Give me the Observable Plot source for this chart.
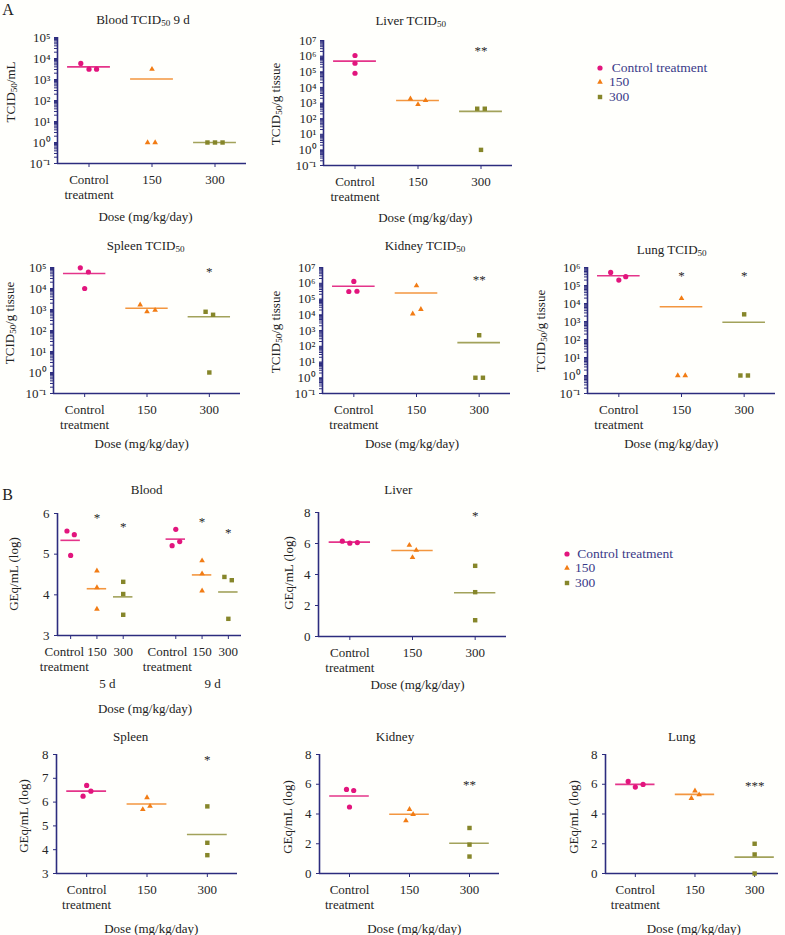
<!DOCTYPE html>
<html><head><meta charset="utf-8">
<script src="https://cdn.jsdelivr.net/npm/d3@7"></script>
<script src="https://cdn.jsdelivr.net/npm/@observablehq/plot@0.6"></script>
<style>
html,body{margin:0;padding:0;background:#fffffc;}
#root{position:relative;width:785px;height:935px;overflow:hidden;background:#fffffc;font-family:"Liberation Serif",serif;color:#222;}
.abs{position:absolute;white-space:nowrap;line-height:1;}
.c{transform:translate(-50%,-50%);}
.rot{transform:translate(-50%,-50%) rotate(-90deg);}
.lg{transform:translate(0,-50%);}
#root svg text{fill:#262626;}
sub{font-size:70%;vertical-align:-0.3em;line-height:0;}
</style></head><body><div id="root"></div>
<script>
// ---------- shared categories ----------
const doseLabels = ["Control\ntreatment", "150", "300"];
const legendNames = ["Control treatment", "150", "300"];
const dayLabels = ["5 d", "9 d"];

// ---------- Panel A: TCID50 (log scale) ----------
const decades5 = [0.1, 1, 10, 100, 1e3, 1e4, 1e5];
const decades6 = [0.1, 1, 10, 100, 1e3, 1e4, 1e5, 1e6];
const decades7 = [0.1, 1, 10, 100, 1e3, 1e4, 1e5, 1e6, 1e7];

const bloodTcid = [[5800, 3100, 3100], [3100, 1, 1], [1, 1, 1]];
const bloodTcidMean = [4000, 1050, 1];
const bloodTcidJitter = [[-0.13, 0, 0.12], [0, -0.07, 0.05], [-0.12, 0, 0.12]];
const bloodTcidSig = ["", "", ""];
const bloodTcidSigAt = [0, 0, 0];

const liverTcid = [[1.1e6, 3.5e5, 8e4], [1860, 810, 1450], [430, 430, 1]];
const liverTcidMean = [4.8e5, 1440, 290];
const liverTcidJitter = [[0, 0, 0], [-0.12, 0, 0.12], [-0.06, 0.06, 0]];
const liverTcidSig = ["", "", "**"];
const liverTcidSigAt = [0, 0, 2.1e6];

const spleenTcid = [[9.6e4, 6.1e4, 1e4], [1660, 790, 930], [780, 560, 1]];
const spleenTcidMean = [5.2e4, 1150, 450];
const spleenTcidJitter = [[-0.07, 0.06, 0], [-0.11, 0, 0.13], [-0.06, 0.06, 0]];
const spleenTcidSig = ["", "", "*"];
const spleenTcidSigAt = [0, 0, 6e4];

const kidneyTcid = [[1.3e6, 3e5, 3.1e5], [7e5, 1.15e4, 2.2e4], [500, 1, 1]];
const kidneyTcidMean = [6.5e5, 2.4e5, 170];
const kidneyTcidJitter = [[0, -0.08, 0.05], [0, -0.06, 0.07], [0, -0.06, 0.06]];
const kidneyTcidSig = ["", "", "**"];
const kidneyTcidSigAt = [0, 0, 1.6e6];

const lungTcid = [[5.3e5, 2e5, 3.1e5], [1.9e4, 1, 1], [2500, 1, 1]];
const lungTcidMean = [3.5e5, 6600, 900];
const lungTcidJitter = [[-0.13, 0, 0.11], [0, -0.06, 0.06], [0, -0.06, 0.06]];
const lungTcidSig = ["", "*", "*"];
const lungTcidSigAt = [0, 3.4e5, 3.4e5];

// ---------- Panel B: GEq/mL (log) ----------
const bloodGeqCats = ["Control\ntreatment", "150", "300", "Control\ntreatment", "150", "300"];
const bloodGeq = [[5.57, 5.48, 4.97], [4.59, 4.18, 3.65], [4.32, 4.02, 3.51],
                  [5.61, 5.21, 5.31], [4.84, 4.52, 4.10], [4.44, 4.36, 3.41]];
const bloodGeqMean = [5.34, 4.15, 3.95, 5.37, 4.49, 4.07];
const bloodGeqJitter = [[-0.14, 0.14, 0], [0, 0, 0], [0, 0, 0], [0, -0.14, 0.15], [0, 0, 0], [-0.15, 0.13, 0]];
const bloodGeqSig = ["", "*", "*", "", "*", "*"];
const bloodGeqSigAt = [0, 5.9, 5.67, 0, 5.8, 5.52];

const liverGeq = [[6.15, 6.02, 6.06], [5.89, 5.57, 5.10], [4.56, 2.86, 1.05]];
const liverGeqMean = [6.09, 5.55, 2.82];
const liverGeqJitter = [[-0.12, 0, 0.12], [-0.05, 0.06, 0], [0, 0, 0]];
const liverGeqSig = ["", "", "*"];
const liverGeqSigAt = [0, 0, 7.8];

const spleenGeq = [[6.70, 6.25, 6.46], [6.19, 5.69, 5.83], [5.82, 4.29, 3.77]];
const spleenGeqMean = [6.46, 5.92, 4.64];
const spleenGeqJitter = [[0, -0.06, 0.07], [0, -0.07, 0.05], [0, 0, 0]];
const spleenGeqSig = ["", "", "*"];
const spleenGeqSigAt = [0, 0, 7.76];

const kidneyGeq = [[5.65, 5.58, 4.47], [4.31, 3.55, 3.98], [3.06, 1.94, 1.14]];
const kidneyGeqMean = [5.21, 3.98, 2.03];
const kidneyGeqJitter = [[-0.05, 0.07, 0], [0, -0.06, 0.06], [0, 0, 0]];
const kidneyGeqSig = ["", "", "**"];
const kidneyGeqSigAt = [0, 0, 5.94];

const lungGeq = [[6.19, 5.81, 5.99], [5.56, 5.05, 5.30], [2.0, 1.28, 0.0]];
const lungGeqMean = [5.99, 5.32, 1.1];
const lungGeqJitter = [[-0.12, 0, 0.13], [0, -0.06, 0.07], [0, 0, 0]];
const lungGeqSig = ["", "", "***"];
const lungGeqSigAt = [0, 0, 5.9];

const geqTicks8 = [0, 2, 4, 6, 8];
const geqTicks3to8 = [3, 4, 5, 6, 7, 8];
const geqTicks3to6 = [3, 4, 5, 6];

// ---------- styles ----------
const navy = "#2c2c7e";
const markColors = ["#e2157d", "#f27c14", "#86862a"];
const lineColors = ["#e4348a", "#f3963f", "#a2a25a"];
const symbols = ["circle", "triangle", "square"];
const sizes = [2.6, 2.1, 2.5];
const supMap = {"-": "\u207B", "0": "\u2070", "1": "\u00B9", "2": "\u00B2", "3": "\u00B3", "4": "\u2074", "5": "\u2075", "6": "\u2076", "7": "\u2077", "8": "\u2078", "9": "\u2079"};
const pow10 = d => "10" + String(Math.round(Math.log10(d))).split("").map(c => supMap[c]).join("");

const root = document.getElementById("root");

function panel(cfg) {
  const {left, right, top, bottom, xDomain, catX, catLabels, catLabelX, groupOf,
         values, means, jitter, sig, sigAt, halfW, log, yDomain, yTicks, groups, groupX} = cfg;
  const mL = 46, mR = 8, mT = 12, mB = 62;
  const pts = [];
  values.forEach((arr, c) => arr.forEach((v, k) => pts.push({x: catX[c] + jitter[c][k], v, g: groupOf[c]})));
  const mrows = means.map((v, c) => ({x: catX[c], v, g: groupOf[c]}));
  const srows = sig.map((s, c) => ({x: catX[c], v: sigAt[c], s})).filter(d => d.s);
  const labs = catLabels.map((t, c) => ({x: catLabelX ? catLabelX[c] : catX[c], t}));
  let yopts;
  if (log) {
    const all = d3.scaleLog().domain(yDomain).ticks();
    yopts = {type: "log", domain: yDomain, ticks: all,
      tickFormat: d => yTicks.some(m => Math.abs(m - d) / m < 1e-9) ? pow10(d) : "",
      tickSize: 3, tickPadding: 4, label: null};
  } else {
    yopts = {type: "linear", domain: yDomain, ticks: yTicks, tickFormat: d => String(d),
      tickSize: 3, tickPadding: 5, label: null};
  }
  const marks = [
    Plot.ruleX([xDomain[0]], {stroke: navy, strokeWidth: 1.6}),
    Plot.ruleY([yDomain[0]], {stroke: navy, strokeWidth: 1.6}),
    Plot.ruleY(mrows, {x1: d => d.x - halfW, x2: d => d.x + halfW, y: "v", stroke: d => lineColors[d.g], strokeWidth: 1.6}),
    ...symbols.map((sym, g) => Plot.dot(pts.filter(d => d.g === g), {x: "x", y: "v", symbol: sym, r: sizes[g], fill: markColors[g], stroke: "none"})),
    Plot.text(labs, {x: "x", text: "t", frameAnchor: "bottom", lineAnchor: "top", dy: 9, lineHeight: 1.2, fontSize: 13}),
    Plot.text(srows, {x: "x", y: "v", text: "s", fontSize: 13, fill: "#333"})
  ];
  if (groups) {
    marks.push(Plot.text(groups.map((t, i) => ({x: groupX[i], t})), {x: "x", text: "t", frameAnchor: "bottom", lineAnchor: "top", dy: 43, fontSize: 13}));
  }
  const node = Plot.plot({
    width: Math.round(right - left + mL + mR),
    height: Math.round(bottom - top + mT + mB),
    marginLeft: mL, marginRight: mR, marginTop: mT, marginBottom: mB,
    style: {fontFamily: "'Liberation Serif', serif", fontSize: "13px", color: navy, background: "none", overflow: "visible"},
    x: {type: "linear", domain: xDomain, ticks: catX, tickFormat: () => "", tickSize: 4, label: null},
    y: yopts,
    marks
  });
  node.style.position = "absolute";
  node.style.left = (left - mL) + "px";
  node.style.top = (top - mT) + "px";
  node.style.margin = "0";
  node.style.maxWidth = "none";
  root.appendChild(node);
}

function label(html, x, y, opts = {}) {
  const el = document.createElement("div");
  el.className = "abs " + (opts.rot ? "rot" : opts.cls || "c");
  el.style.left = x + "px";
  el.style.top = y + "px";
  el.style.fontSize = (opts.size || 13) + "px";
  if (opts.color) el.style.color = opts.color;
  el.innerHTML = html;
  root.appendChild(el);
}

function legend(x, ys, textX) {
  legendNames.forEach((name, g) => {
    const s = document.createElementNS("http://www.w3.org/2000/svg", "svg");
    s.setAttribute("width", 12); s.setAttribute("height", 12);
    s.style.position = "absolute"; s.style.left = (x - 6) + "px"; s.style.top = (ys[g] - 6) + "px";
    const p = document.createElementNS("http://www.w3.org/2000/svg", "path");
    const type = [d3.symbolCircle, d3.symbolTriangle, d3.symbolSquare][g];
    p.setAttribute("d", d3.symbol(type, Math.PI * sizes[g] * sizes[g])());
    p.setAttribute("transform", "translate(6,6)");
    p.setAttribute("fill", markColors[g]);
    s.appendChild(p);
    root.appendChild(s);
    label(name, textX[g], ys[g], {cls: "lg", size: 13.5, color: "#3a3a88"});
  });
}

const g3 = [0, 1, 2];
const x3 = [0, 1, 2];

// ---------- Panel A ----------
panel({left: 57.3, right: 246.7, top: 36.7, bottom: 162.7, xDomain: [-0.5, 2.5], catX: x3, catLabels: doseLabels, groupOf: g3,
  values: bloodTcid, means: bloodTcidMean, jitter: bloodTcidJitter, sig: bloodTcidSig, sigAt: bloodTcidSigAt,
  halfW: 0.34, log: true, yDomain: [0.1, 1e5], yTicks: decades5});
panel({left: 322.7, right: 512, top: 40, bottom: 165, xDomain: [-0.5, 2.5], catX: x3, catLabels: doseLabels, groupOf: g3,
  values: liverTcid, means: liverTcidMean, jitter: liverTcidJitter, sig: liverTcidSig, sigAt: liverTcidSigAt,
  halfW: 0.34, log: true, yDomain: [0.1, 1e7], yTicks: decades7});
panel({left: 53.3, right: 240.7, top: 267.3, bottom: 393.3, xDomain: [-0.5, 2.5], catX: x3, catLabels: doseLabels, groupOf: g3,
  values: spleenTcid, means: spleenTcidMean, jitter: spleenTcidJitter, sig: spleenTcidSig, sigAt: spleenTcidSigAt,
  halfW: 0.34, log: true, yDomain: [0.1, 1e5], yTicks: decades5});
panel({left: 322.3, right: 510, top: 267.3, bottom: 393.3, xDomain: [-0.5, 2.5], catX: x3, catLabels: doseLabels, groupOf: g3,
  values: kidneyTcid, means: kidneyTcidMean, jitter: kidneyTcidJitter, sig: kidneyTcidSig, sigAt: kidneyTcidSigAt,
  halfW: 0.34, log: true, yDomain: [0.1, 1e7], yTicks: decades7});
panel({left: 586.7, right: 775, top: 267.3, bottom: 393.3, xDomain: [-0.5, 2.5], catX: x3, catLabels: doseLabels, groupOf: g3,
  values: lungTcid, means: lungTcidMean, jitter: lungTcidJitter, sig: lungTcidSig, sigAt: lungTcidSigAt,
  halfW: 0.34, log: true, yDomain: [0.1, 1e6], yTicks: decades6});

// ---------- Panel B ----------
panel({left: 56.7, right: 240.7, top: 513.3, bottom: 635.7, xDomain: [-0.5, 6.5], catX: [0, 1, 2, 4, 5, 6],
  catLabelX: [-0.24, 1, 2, 3.68, 5, 6], catLabels: bloodGeqCats, groupOf: [0, 1, 2, 0, 1, 2],
  values: bloodGeq, means: bloodGeqMean, jitter: bloodGeqJitter, sig: bloodGeqSig, sigAt: bloodGeqSigAt,
  halfW: 0.37, log: false, yDomain: [3, 6], yTicks: geqTicks3to6, groups: dayLabels, groupX: [1.4, 5.4]});
panel({left: 318.3, right: 506, top: 511.7, bottom: 635.7, xDomain: [-0.5, 2.5], catX: x3, catLabels: doseLabels, groupOf: g3,
  values: liverGeq, means: liverGeqMean, jitter: liverGeqJitter, sig: liverGeqSig, sigAt: liverGeqSigAt,
  halfW: 0.33, log: false, yDomain: [0, 8], yTicks: geqTicks8});
panel({left: 56, right: 236.7, top: 754.3, bottom: 873.3, xDomain: [-0.5, 2.5], catX: x3, catLabels: doseLabels, groupOf: g3,
  values: spleenGeq, means: spleenGeqMean, jitter: spleenGeqJitter, sig: spleenGeqSig, sigAt: spleenGeqSigAt,
  halfW: 0.33, log: false, yDomain: [3, 8], yTicks: geqTicks3to8});
panel({left: 319.3, right: 499.3, top: 754.3, bottom: 873.7, xDomain: [-0.5, 2.5], catX: x3, catLabels: doseLabels, groupOf: g3,
  values: kidneyGeq, means: kidneyGeqMean, jitter: kidneyGeqJitter, sig: kidneyGeqSig, sigAt: kidneyGeqSigAt,
  halfW: 0.33, log: false, yDomain: [0, 8], yTicks: geqTicks8});
panel({left: 605, right: 778.3, top: 754.3, bottom: 873.7, xDomain: [-0.5, 2.4], catX: x3, catLabels: doseLabels, groupOf: g3,
  values: lungGeq, means: lungGeqMean, jitter: lungGeqJitter, sig: lungGeqSig, sigAt: lungGeqSigAt,
  halfW: 0.33, log: false, yDomain: [0, 8], yTicks: geqTicks8});

// ---------- titles and labels ----------
label("A", 8, 9.5, {size: 16});
label("B", 7.5, 494.5, {size: 16});

label("Blood TCID<sub>50</sub> 9 d", 143, 19.3);
label("Liver TCID<sub>50</sub>", 410.7, 20);
label("Spleen TCID<sub>50</sub>", 145.7, 245);
label("Kidney TCID<sub>50</sub>", 425, 245);
label("Lung TCID<sub>50</sub>", 671.7, 249.3);
label("Blood", 146.7, 489.3);
label("Liver", 398.3, 489.3);
label("Spleen", 130.7, 736);
label("Kidney", 395, 736);
label("Lung", 681.7, 736);

const doseText = "Dose (mg/kg/day)";
[[145.5, 216], [425.3, 216.7], [141.7, 442.7], [412, 443.3], [671.3, 443.3],
 [145, 708], [417.5, 684], [151.3, 927.7], [414.3, 928.3], [693.8, 928.3]].forEach(([x, y]) => label(doseText, x, y));

label("TCID<sub>50</sub>/mL", 10, 91.7, {rot: true});
label("TCID<sub>50</sub>/g tissue", 275, 104, {rot: true});
label("TCID<sub>50</sub>/g tissue", 8.5, 323, {rot: true});
label("TCID<sub>50</sub>/g tissue", 275, 331.7, {rot: true});
label("TCID<sub>50</sub>/g tissue", 540, 330.7, {rot: true});
label("GEq/mL (log)", 13.3, 574, {rot: true});
label("GEq/mL (log)", 288.3, 573.3, {rot: true});
label("GEq/mL (log)", 23.3, 815.7, {rot: true});
label("GEq/mL (log)", 287.3, 817.3, {rot: true});
label("GEq/mL (log)", 573.3, 817.3, {rot: true});

legend(600, [67.7, 82.3, 96.7], [611.7, 609, 609]);
legend(566.7, [554, 568.3, 582.7], [577.3, 575, 575]);
</script></body></html>
